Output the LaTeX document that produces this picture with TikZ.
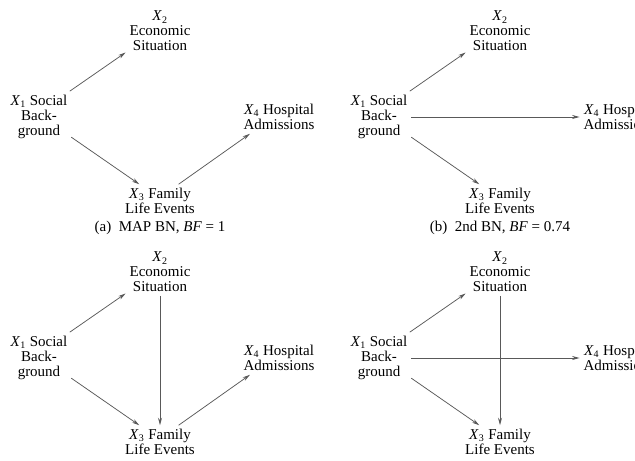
\documentclass[tikz,border=0pt]{standalone}
\usepackage{fontspec}
\setmainfont{Liberation Serif}
\usetikzlibrary{arrows.meta}
\newcommand{\X}[1]{\textit{X}\textsubscript{#1}}
\tikzset{
  var/.style={inner sep=3pt, align=center, font=\fontsize{12}{12}\selectfont},
  subcap/.style={inner sep=0pt, font=\fontsize{12}{12}\selectfont},
  edge/.style={-{Stealth[length=6pt,width=3.2pt]}, draw=black!65, line width=0.6pt},
}
% the four variables of one network, names start with #1
\newcommand{\bnnodes}[1]{%
  \node[var] (#1x1) at (39,117)  {\X{1} Social\\Back-\\ground};
  \node[var] (#1x2) at (160,31)  {\X{2}\\Economic\\Situation};
  \node[var] (#1x3) at (160,201) {\X{3} Family\\Life Events};
  \node[var] (#1x4) at (279,117) {\X{4} Hospital\\Admissions};
}

\begin{document}
\begin{tikzpicture}[x=0.8pt, y=-0.8pt]
  \clip (0,0) rectangle (635,461);
  % (a)
  \bnnodes{a}
  \node[subcap] (acap) at (160,228) {(a)\enspace MAP BN, \textit{BF} = 1};
  \draw[edge] (ax1.40) -- (ax2.212);
  \draw[edge] (ax1.328) -- (ax3.141);
  \draw[edge] (ax3.42) -- (ax4.210);
  % (b)
  \begin{scope}[shift={(340,0)}]
    \bnnodes{b}
    \node[subcap] (bcap) at (160,228) {(b)\enspace 2nd BN, \textit{BF} = 0.74};
  \end{scope}
  \draw[edge] (bx1.40) -- (bx2.212);
  \draw[edge] (bx1.328) -- (bx3.141);
  \draw[edge] (bx1) -- (bx4);
  % (c)
  \begin{scope}[shift={(0,241)}]
    \bnnodes{c}
  \end{scope}
  \draw[edge] (cx1.40) -- (cx2.212);
  \draw[edge] (cx1.328) -- (cx3.141);
  \draw[edge] (cx2) -- (cx3);
  \draw[edge] (cx3.42) -- (cx4.210);
  % (d)
  \begin{scope}[shift={(340,241)}]
    \bnnodes{d}
  \end{scope}
  \draw[edge] (dx1.40) -- (dx2.212);
  \draw[edge] (dx1.328) -- (dx3.141);
  \draw[edge] (dx1) -- (dx4);
  \draw[edge] (dx2) -- (dx3);
\end{tikzpicture}
\end{document}
